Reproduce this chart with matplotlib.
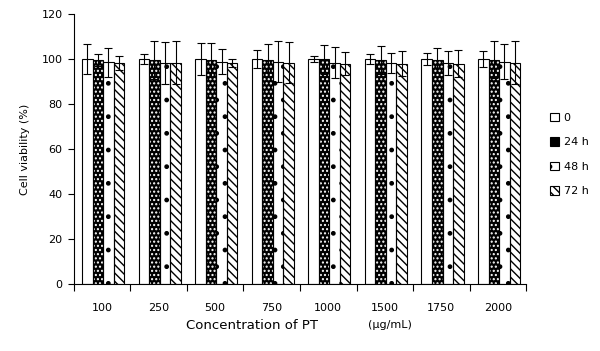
import numpy as np
import matplotlib
matplotlib.use("Agg")
import matplotlib.pyplot as plt
from matplotlib.patches import Patch

# -------------------- Data --------------------
concentrations = ["100", "250", "500", "750", "1000", "1500", "1750", "2000"]
series_names = ["0", "24 h", "48 h", "72 h"]

viab_0 = [100.0, 100.0, 100.0, 100.0, 100.0, 100.0, 100.0, 100.0]
viab_24 = [99.6, 99.4, 99.7, 99.4, 99.8, 99.7, 99.7, 99.7]
viab_48 = [98.6, 98.4, 98.8, 98.9, 98.4, 98.4, 98.4, 98.7]
viab_72 = [98.3, 98.4, 98.4, 98.4, 98.0, 98.0, 98.0, 98.4]

err_0 = [6.5, 2.3, 7.0, 4.0, 1.2, 2.2, 2.5, 3.5]
err_24 = [2.5, 8.5, 7.5, 7.5, 6.3, 6.3, 5.3, 8.3]
err_48 = [6.5, 9.3, 5.5, 9.3, 6.8, 4.5, 5.3, 7.8]
err_72 = [3.0, 9.6, 1.8, 9.1, 5.3, 5.7, 6.0, 9.6]

# -------------------- Style --------------------
plt.rcParams['font.family'] = ['DejaVu Sans']
plt.rcParams['hatch.linewidth'] = 1.0
font_size = 8

values = [viab_0, viab_24, viab_48, viab_72]
errors = [err_0, err_24, err_48, err_72]
faces = ['white', 'black', 'white', 'white']
hatches = [None, '....', '.', '\\\\\\\\']
hatch_colors = ['black', 'white', 'black', 'black']

fig = plt.figure(figsize=(6.0, 3.51), dpi=100)
ax = fig.add_axes([0.123, 0.191, 0.754, 0.769])

x = np.arange(len(concentrations))
width = 0.186
for i in range(4):
    pos = x + (i - 1.5) * width + 0.02
    # fill + hatch pass
    ax.bar(pos, values[i], width, color=faces[i], edgecolor=hatch_colors[i],
           hatch=hatches[i], linewidth=0, zorder=2)
    # outline pass
    ax.bar(pos, values[i], width, facecolor='none', edgecolor='black',
           linewidth=0.8, zorder=3)
    ax.errorbar(pos, values[i], yerr=errors[i], fmt='none', ecolor='black',
                elinewidth=0.8, capsize=3, capthick=0.8, zorder=4)

ax.set_xlim(-0.5, len(concentrations) - 0.5)
ax.set_ylim(0, 120)
ax.set_yticks(np.arange(0, 121, 20))
ax.set_xticks(x)
ax.set_xticklabels(concentrations)
ax.set_xticks(np.arange(-0.5, len(concentrations)), minor=True)
ax.tick_params(axis='x', which='major', length=0, pad=14, labelsize=font_size)
ax.tick_params(axis='x', which='minor', length=5, width=0.8, direction='out')
ax.tick_params(axis='y', length=4, width=0.8, direction='out', labelsize=font_size, pad=4)
for side in ['top', 'right']:
    ax.spines[side].set_visible(False)
for side in ['left', 'bottom']:
    ax.spines[side].set_linewidth(0.8)

ax.set_ylabel('Cell viability (%)', fontsize=font_size, labelpad=8)

fig.text(0.42, 0.074, 'Concentration of PT', ha='center', va='center', fontsize=9.5)
fig.text(0.65, 0.074, '(μg/mL)', ha='center', va='center', fontsize=font_size)

handles = [Patch(facecolor=faces[i], edgecolor='black', hatch=hatches[i], linewidth=0.8)
           for i in range(4)]
leg = fig.legend(handles, series_names, loc='center left', bbox_to_anchor=(0.908, 0.56),
                 frameon=False, fontsize=font_size, handlelength=0.8, handleheight=0.8,
                 handletextpad=0.4, labelspacing=1.3, borderpad=0)

fig.savefig('out.png', dpi=100)
